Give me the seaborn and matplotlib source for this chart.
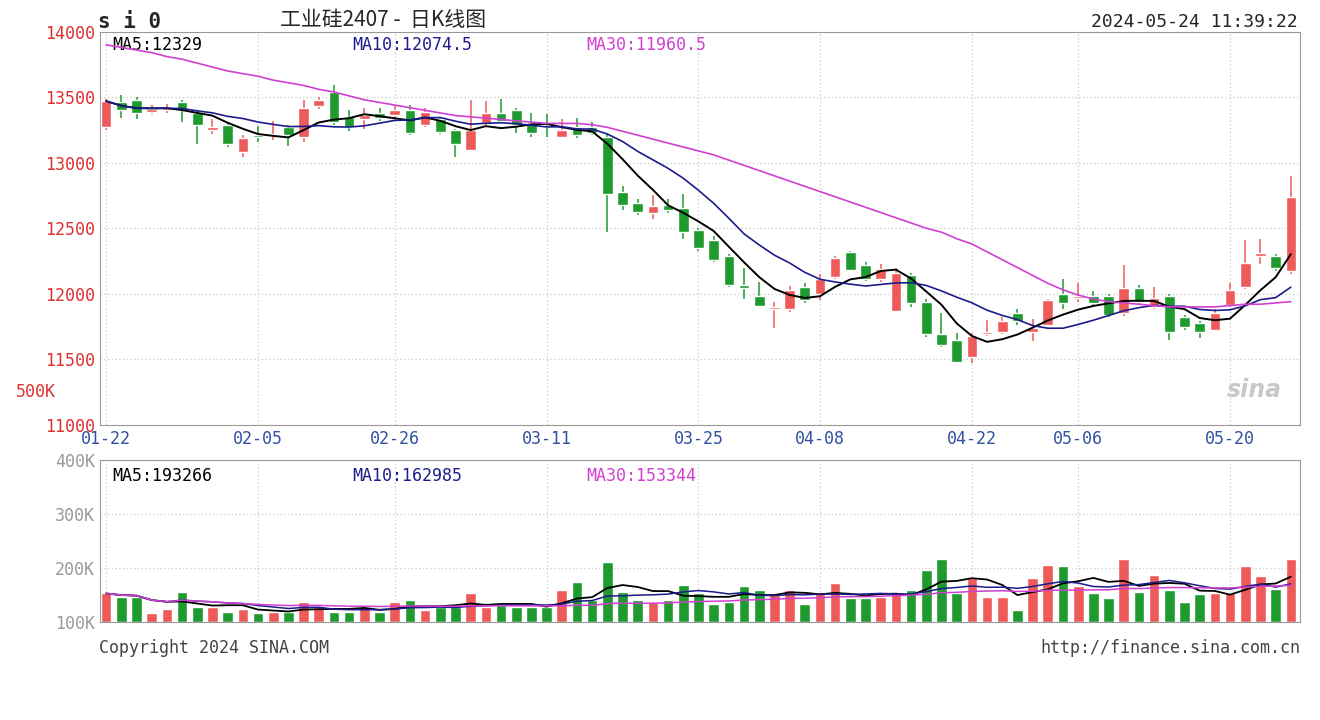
import numpy as np
import pandas as pd
import matplotlib
matplotlib.use("Agg")
import matplotlib.pyplot as plt
import seaborn as sns

# daily K data
opens = [13270, 13460, 13480, 13390, 13400, 13460, 13380, 13250, 13290, 13080,
         13210, 13210, 13270, 13200, 13430, 13540, 13350, 13330, 13380, 13365,
         13405, 13290, 13330, 13250, 13100, 13305, 13380, 13400, 13300, 13280,
         13200, 13270, 13275, 13200, 12780, 12695, 12620, 12680, 12655, 12490,
         12410, 12285, 12070, 11985, 11880, 11885, 12055, 11995, 12130, 12320,
         12220, 12110, 11870, 12145, 11940, 11695, 11650, 11515, 11690, 11705,
         11855, 11705, 11765, 11995, 11970, 11985, 11985, 11855, 12045, 11900,
         11980, 11825, 11780, 11725, 11915, 12055, 12285, 12285, 12170]
closes = [13470, 13400, 13380, 13410, 13420, 13400, 13290, 13275, 13140, 13190,
          13200, 13220, 13215, 13420, 13480, 13310, 13275, 13365, 13345, 13400,
          13230, 13390, 13235, 13140, 13250, 13380, 13315, 13290, 13230, 13270,
          13250, 13215, 13230, 12760, 12680, 12625, 12670, 12640, 12475, 12350,
          12260, 12070, 12045, 11910, 11900, 12030, 11955, 12110, 12270, 12185,
          12115, 12190, 12160, 11930, 11690, 11610, 11480, 11680, 11705, 11790,
          11790, 11740, 11955, 11930, 11980, 11930, 11840, 12045, 11940, 11970,
          11710, 11750, 11705, 11855, 12030, 12235, 12310, 12200, 12735]
highs = [13490, 13520, 13500, 13440, 13450, 13480, 13400, 13330, 13310, 13210,
         13280, 13320, 13290, 13480, 13500, 13595, 13400, 13420, 13420, 13430,
         13440, 13420, 13350, 13260, 13480, 13470, 13490, 13420, 13380, 13370,
         13330, 13340, 13310, 13230, 12820, 12720, 12750, 12720, 12760, 12500,
         12440, 12300, 12200, 12090, 11940, 12060, 12080, 12150, 12290, 12330,
         12240, 12230, 12200, 12160, 11960, 11850, 11700, 11700, 11800, 11820,
         11880, 11810, 11960, 12110, 12080, 12020, 12000, 12220, 12070, 12050,
         12000, 11840, 11790, 11880, 12080, 12410, 12420, 12300, 12895]
lows = [13250, 13340, 13335, 13370, 13380, 13310, 13140, 13220, 13120, 13040,
        13160, 13170, 13130, 13160, 13410, 13290, 13240, 13260, 13320, 13340,
        13210, 13270, 13220, 13045, 13090, 13290, 13300, 13230, 13200, 13200,
        13190, 13190, 13210, 12475, 12640, 12600, 12570, 12620, 12420, 12330,
        12240, 12050, 11960, 11900, 11740, 11860, 11930, 11950, 12110, 12170,
        12100, 12090, 11860, 11900, 11670, 11590, 11470, 11470, 11680, 11690,
        11760, 11640, 11760, 11880, 11940, 11900, 11820, 11830, 11920, 11880,
        11650, 11720, 11660, 11720, 11900, 12040, 12230, 12170, 12150]
# MA30 line as seen on the chart (needs history before the window)
ma30_price = [13900, 13880, 13860, 13840, 13810, 13790, 13760, 13730, 13700, 13680,
              13660, 13630, 13610, 13590, 13560, 13540, 13510, 13480, 13460, 13440,
              13420, 13400, 13380, 13360, 13350, 13340, 13330, 13320, 13310, 13300,
              13300, 13300, 13290, 13270, 13240, 13210, 13180, 13150, 13120, 13090,
              13060, 13020, 12980, 12940, 12900, 12860, 12820, 12780, 12740, 12700,
              12660, 12620, 12580, 12540, 12500, 12470, 12420, 12380, 12320, 12260,
              12200, 12140, 12080, 12030, 11990, 11960, 11940, 11930, 11920, 11910,
              11900, 11900, 11900, 11900, 11910, 11920, 11920, 11930, 11940]
# volume in thousands
volume = [153, 147, 147, 116, 125, 156, 128, 128, 119, 125, 116, 119, 119, 137, 128,
          119, 119, 128, 119, 137, 141, 122, 128, 128, 153, 128, 131, 128, 128, 128,
          159, 175, 141, 212, 156, 141, 137, 141, 169, 153, 134, 137, 167, 159, 153,
          159, 133, 153, 172, 144, 144, 147, 156, 159, 197, 216, 153, 181, 147, 147,
          122, 181, 206, 203, 166, 153, 144, 216, 156, 187, 159, 137, 152, 153, 153,
          204, 186, 161, 216]
date_idx = [0, 10, 19, 29, 39, 47, 57, 64, 74]
date_labels = ["01-22", "02-05", "02-26", "03-11", "03-25", "04-08", "04-22", "05-06", "05-20"]
price_ticks = [11000, 11500, 12000, 12500, 13000, 13500, 14000]
vol_ticks = [100, 200, 300, 400]

RED = "#ee5a5a"
GREEN = "#1e9a2e"
GRID = "#c8c8c8"
MONO = "DejaVu Sans Mono"

df = pd.DataFrame({"o": opens, "c": closes, "h": highs, "l": lows, "v": volume})
df["i"] = np.arange(len(df))
df["ma5"] = df["c"].rolling(5, min_periods=1).mean()
df["ma10"] = df["c"].rolling(10, min_periods=1).mean()
df["ma30"] = ma30_price
df["vma5"] = df["v"].rolling(5, min_periods=1).mean()
df["vma10"] = df["v"].rolling(10, min_periods=1).mean()
df["vma30"] = df["v"].rolling(30, min_periods=1).mean()
cols = [RED if c >= o else GREEN for o, c in zip(df["o"], df["c"])]

sns.set_style("white")
plt.rcParams["font.family"] = [MONO, "Noto Sans CJK SC"]

fig = plt.figure(figsize=(13.2, 7.2), dpi=100)
ax = fig.add_axes([0.0758, 0.41, 0.909, 0.546])
axv = fig.add_axes([0.0758, 0.136, 0.909, 0.225])

for a in (ax, axv):
    for x in date_idx:
        a.axvline(x, color=GRID, lw=0.9, ls=(0, (1, 2)), zorder=0)
    for s in a.spines.values():
        s.set_color("#999999")
    a.set_xlim(-0.4, 78.6)
    a.tick_params(length=0)

for y in price_ticks[1:-1]:
    ax.axhline(y, color=GRID, lw=0.9, ls=(0, (1, 2)), zorder=0)
for y in vol_ticks[1:-1]:
    axv.axhline(y, color=GRID, lw=0.9, ls=(0, (1, 2)), zorder=0)

# candles
ax.vlines(df["i"], df["l"], df["h"], colors=cols, lw=1.1, zorder=2)
body = (df["c"] - df["o"]).abs().clip(lower=8)
ax.bar(df["i"], body, bottom=np.minimum(df["o"], df["c"]), width=0.7, color=cols, zorder=3)
sns.lineplot(data=df, x="i", y="ma5", ax=ax, color="black", lw=1.4, zorder=4)
sns.lineplot(data=df, x="i", y="ma10", ax=ax, color="#1c1c8c", lw=1.2, zorder=4)
sns.lineplot(data=df, x="i", y="ma30", ax=ax, color="#d040d0", lw=1.2, zorder=4)
ax.set_ylim(11000, 14000)
ax.set_yticks(price_ticks)
ax.set_yticklabels([str(t) for t in price_ticks], color="#dd3030", fontsize=12)
ax.set_xticks(date_idx)
ax.set_xticklabels(date_labels, fontsize=12, color="#3050a0")
ax.set_xlabel("")
ax.set_ylabel("")
ax.text(-0.07, 0.07, "500K", transform=ax.transAxes, fontsize=12, color="#dd3030")
ax.text(0.01, 0.965, "MA5:12329", transform=ax.transAxes, fontsize=12, color="black", va="center")
ax.text(0.21, 0.965, "MA10:12074.5", transform=ax.transAxes, fontsize=12, color="#1c1c8c", va="center")
ax.text(0.405, 0.965, "MA30:11960.5", transform=ax.transAxes, fontsize=12, color="#d040d0", va="center")
ax.text(0.985, 0.07, "sina", transform=ax.transAxes, fontsize=17, color="#c8c8c8",
        ha="right", style="italic", fontweight="bold", family="DejaVu Sans")

# volume
axv.bar(df["i"], df["v"] - 100, bottom=100, width=0.7, color=cols, zorder=2)
sns.lineplot(data=df, x="i", y="vma5", ax=axv, color="black", lw=1.3, zorder=4)
sns.lineplot(data=df, x="i", y="vma10", ax=axv, color="#1c1c8c", lw=1.1, zorder=4)
sns.lineplot(data=df, x="i", y="vma30", ax=axv, color="#d040d0", lw=1.1, zorder=4)
axv.set_ylim(100, 400)
axv.set_yticks(vol_ticks)
axv.set_yticklabels([f"{t}K" for t in vol_ticks], color="#999999", fontsize=12)
axv.set_xticks([])
axv.set_xlabel("")
axv.set_ylabel("")
axv.text(0.01, 0.9, "MA5:193266", transform=axv.transAxes, fontsize=12, color="black", va="center")
axv.text(0.21, 0.9, "MA10:162985", transform=axv.transAxes, fontsize=12, color="#1c1c8c", va="center")
axv.text(0.405, 0.9, "MA30:153344", transform=axv.transAxes, fontsize=12, color="#d040d0", va="center")

# header and footer
fig.text(0.074, 0.97, "s i 0", fontsize=15, fontweight="bold", va="center")
fig.text(0.212, 0.972, "工业硅2407 -  日K线图", fontsize=15, va="center",
         family=["Noto Sans CJK SC", MONO])
fig.text(0.983, 0.97, "2024-05-24 11:39:22", fontsize=13, ha="right", va="center")
fig.text(0.075, 0.1, "Copyright 2024 SINA.COM", fontsize=12, color="#444444", va="center")
fig.text(0.985, 0.1, "http://finance.sina.com.cn", fontsize=12, color="#444444", ha="right", va="center")

fig.savefig("out.png", dpi=100, facecolor="white")
